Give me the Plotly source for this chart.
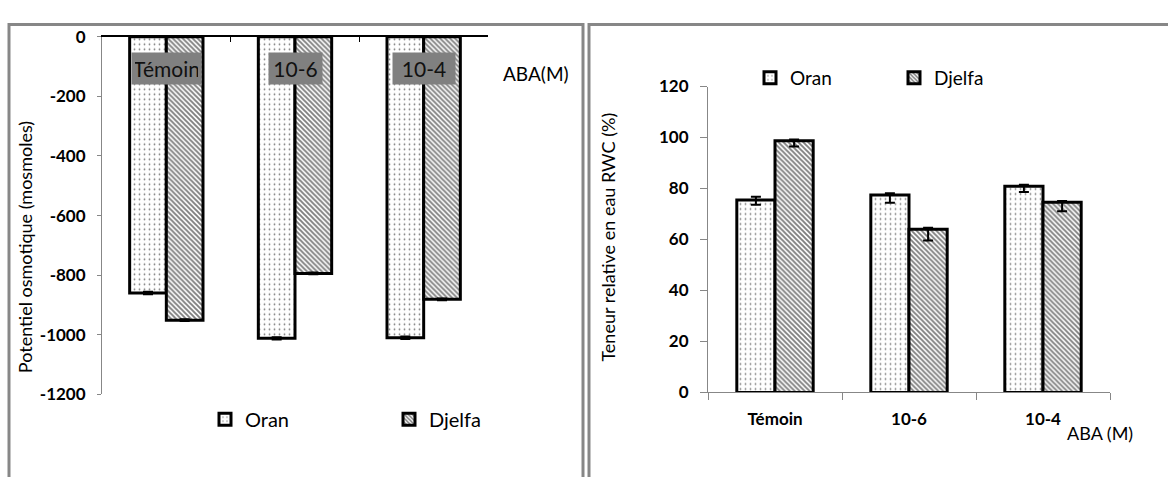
import plotly.graph_objects as go

categories = ["Témoin", "10-6", "10-4"]
series = ["Oran", "Djelfa"]

osmo_oran = [-860, -1012, -1010]
osmo_djelfa = [-951, -794, -881]
osmo_err_oran = [4, 4, 4]
osmo_err_djelfa = [3, 3, 3]

rwc_oran = [75.5, 77.4, 80.9]
rwc_djelfa = [98.7, 64.0, 74.6]
rwc_err_oran_plus = [1.3, 0.7, 0.6]
rwc_err_oran_minus = [1.9, 3.0, 2.3]
rwc_err_djelfa_plus = [0.5, 0.6, 0.5]
rwc_err_djelfa_minus = [2.2, 4.4, 3.5]

osmo_ticks = [0, -200, -400, -600, -800, -1000, -1200]
osmo_ticktext = ["0", "-200", "-400", "-600", "-800", "-1000", "-1200"]
rwc_ticks = [0, 20, 40, 60, 80, 100, 120]

W, H = 1168, 477
FONT = "Lato, Carlito, Roboto, sans-serif"
GRAY = "#878787"

def px(x):
    return x / W

def py(y):
    return 1 - y / H

dot = dict(shape=".", size=5, solidity=0.1, fgcolor="black", bgcolor="white", fillmode="overlay")
hatch = dict(shape="\\", size=3.5, solidity=0.55, fgcolor="black", bgcolor="white", fillmode="overlay")
outline = dict(color="black", width=3)

fig = go.Figure()

# Left panel
fig.add_trace(go.Bar(
    x=categories, y=osmo_oran, name=series[0], xaxis="x", yaxis="y",
    marker=dict(color="white", pattern=dot, line=outline),
    error_y=dict(type="data", array=osmo_err_oran, color="black", thickness=2, width=5),
    legend="legend",
))
fig.add_trace(go.Bar(
    x=categories, y=osmo_djelfa, name=series[1], xaxis="x", yaxis="y",
    marker=dict(color="white", pattern=hatch, line=outline),
    error_y=dict(type="data", array=osmo_err_djelfa, color="black", thickness=2, width=5),
    legend="legend",
))

# Right panel
fig.add_trace(go.Bar(
    x=categories, y=rwc_oran, name=series[0], xaxis="x2", yaxis="y2",
    marker=dict(color="white", pattern=dot, line=outline),
    error_y=dict(type="data", symmetric=False, array=rwc_err_oran_plus,
                 arrayminus=rwc_err_oran_minus, color="black", thickness=2, width=5),
    legend="legend2",
))
fig.add_trace(go.Bar(
    x=categories, y=rwc_djelfa, name=series[1], xaxis="x2", yaxis="y2",
    marker=dict(color="white", pattern=hatch, line=outline),
    error_y=dict(type="data", symmetric=False, array=rwc_err_djelfa_plus,
                 arrayminus=rwc_err_djelfa_minus, color="black", thickness=2, width=5),
    legend="legend2",
))

tickfont_bold = dict(family=FONT, size=17, color="black", weight="bold")

annotations = []
# category boxes in left panel
box_widths = [63, 47, 56]
for c, w in zip(categories, box_widths):
    annotations.append(dict(
        x=c, xref="x", y=py(60), yref="paper", text=c, showarrow=False,
        font=dict(family=FONT, size=21, color="#111111"),
        bgcolor="#808080", borderpad=3, width=w, xanchor="center", yanchor="middle",
    ))
annotations += [
    dict(x=px(536), y=py(65), xref="paper", yref="paper", text="ABA(M)", showarrow=False,
         font=dict(family=FONT, size=19, color="black"), xanchor="center", yanchor="middle"),
    dict(x=px(25), y=py(247), xref="paper", yref="paper", text="Potentiel osmotique (mosmoles)",
         showarrow=False, textangle=-90,
         font=dict(family=FONT, size=18, color="black"), xanchor="center", yanchor="middle"),
    dict(x=px(608), y=py(237), xref="paper", yref="paper", text="Teneur relative en eau RWC (%)",
         showarrow=False, textangle=-90,
         font=dict(family=FONT, size=18, color="black"), xanchor="center", yanchor="middle"),
    dict(x=px(1100), y=py(441), xref="paper", yref="paper", text="ABA (M)", showarrow=False,
         font=dict(family=FONT, size=18, color="black"), xanchor="center", yanchor="middle"),
]

shapes = [
    dict(type="rect", xref="paper", yref="paper", x0=px(9), x1=px(583), y0=-0.2, y1=py(14),
         line=dict(color=GRAY, width=3), fillcolor="rgba(0,0,0,0)", layer="below"),
    dict(type="rect", xref="paper", yref="paper", x0=px(589), x1=1.2, y0=-0.2, y1=py(14),
         line=dict(color=GRAY, width=3), fillcolor="rgba(0,0,0,0)", layer="below"),
]

fig.update_layout(
    width=W, height=H,
    margin=dict(l=0, r=0, t=0, b=0),
    paper_bgcolor="white", plot_bgcolor="white",
    barmode="group", bargap=0.43, bargroupgap=0,
    font=dict(family=FONT, color="black"),
    showlegend=True,
    hovermode=False,
    xaxis=dict(type="category", domain=[px(102), px(488)], anchor="y", side="top",
               showticklabels=False, showline=True, linecolor="black", linewidth=2,
               ticks="inside", ticklen=5, tickcolor="black", tickwidth=1,
               tickson="boundaries", showgrid=False, zeroline=False,
               categoryorder="array", categoryarray=categories),
    yaxis=dict(domain=[py(401), py(27)], anchor="x", range=[-1200, 0],
               tickvals=osmo_ticks, ticktext=osmo_ticktext,
               showline=True, linecolor=GRAY, linewidth=1,
               ticks="outside", ticklen=4, tickcolor=GRAY, showgrid=False, zeroline=False,
               tickfont=tickfont_bold, ticklabelstandoff=8),
    xaxis2=dict(type="category", domain=[px(708), px(1110)], anchor="y2",
                showline=True, linecolor=GRAY, linewidth=1,
                ticks="outside", ticklen=7, tickcolor=GRAY, tickson="boundaries",
                showgrid=False, zeroline=False, tickfont=tickfont_bold,
                ticklabelstandoff=11,
                categoryorder="array", categoryarray=categories),
    yaxis2=dict(domain=[py(399), py(79)], anchor="x2", range=[0, 120],
                tickvals=rwc_ticks, showline=True, linecolor=GRAY, linewidth=1,
                ticks="outside", ticklen=7, tickcolor=GRAY, showgrid=False, zeroline=False,
                tickfont=tickfont_bold, ticklabelstandoff=8),
    legend=dict(orientation="h", x=px(205), y=py(427), xanchor="left", yanchor="middle",
                bgcolor="rgba(0,0,0,0)", font=dict(family=FONT, size=20, color="black"),
                itemwidth=30, entrywidth=139, entrywidthmode="pixels"),
    legend2=dict(orientation="h", x=px(750), y=py(70), xanchor="left", yanchor="middle",
                 bgcolor="rgba(0,0,0,0)", font=dict(family=FONT, size=19, color="black"),
                 itemwidth=30, entrywidth=99, entrywidthmode="pixels"),
    annotations=annotations,
    shapes=shapes,
)

fig.write_html("out.html", config={"displayModeBar": False})
